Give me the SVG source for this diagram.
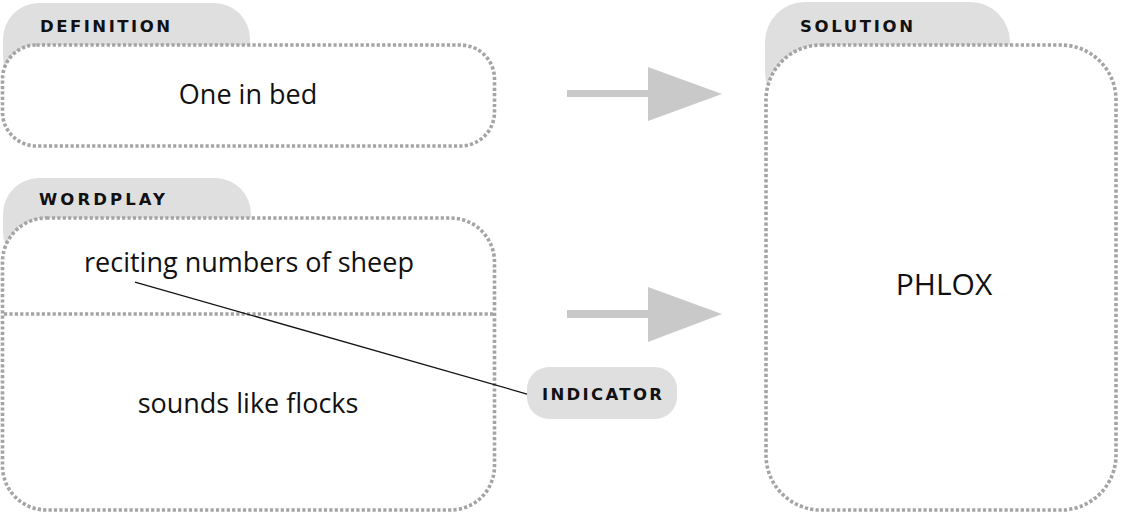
<svg xmlns="http://www.w3.org/2000/svg" width="1122" height="515" viewBox="0 0 1122 515">
<style>
.tab{fill:#dfdfe0}
.box{fill:#ffffff;stroke:#a4a4a4;stroke-width:3.6;stroke-dasharray:3.2 2.2}
.div{fill:none;stroke:#a4a4a4;stroke-width:3.6;stroke-dasharray:3.2 2.2}
.lbl{font-family:"DejaVu Sans",sans-serif;font-weight:bold;font-size:16.5px;fill:#111}
.txt{font-family:"Open Sans","Noto Sans",sans-serif;font-size:27px;fill:#111;text-anchor:middle}
.arr{fill:#c9c9c9}
</style>
<rect width="1122" height="515" fill="#ffffff"/>
<g id="definition">
  <rect class="tab" x="3" y="3" width="247" height="90" rx="36"/>
  <rect class="box" x="2.5" y="45" width="492" height="101" rx="34"/>
  <text class="lbl" x="40" y="32" textLength="130" lengthAdjust="spacing">DEFINITION</text>
  <text class="txt" x="248" y="104">One in bed</text>
</g>
<g id="wordplay">
  <rect class="tab" x="3" y="178" width="248" height="90" rx="36"/>
  <rect class="box" x="2.5" y="218" width="492" height="292" rx="44"/>
  <line class="div" x1="4" y1="314" x2="493" y2="314"/>
  <text class="lbl" x="39" y="205" textLength="126" lengthAdjust="spacing">WORDPLAY</text>
  <text class="txt" x="249" y="272">reciting numbers of sheep</text>
  <text class="txt" x="248" y="413">sounds like flocks</text>
</g>
<g id="indicator">
  <rect class="tab" x="527" y="367" width="150" height="52" rx="22"/>
  <text class="lbl" x="542" y="400" textLength="120" lengthAdjust="spacing">INDICATOR</text>
</g>
<g id="solution">
  <rect class="tab" x="765" y="2" width="245" height="110" rx="40"/>
  <rect class="box" x="766" y="45" width="350" height="465" rx="55"/>
  <text class="lbl" x="800" y="32" textLength="113" lengthAdjust="spacing">SOLUTION</text>
  <text class="txt" x="944" y="295" style="font-size:30px">PHLOX</text>
</g>
<g id="connectors">
  <path class="arr" d="M567 90 H648 V67 L722 94 L648 121 V97 H567 Z"/>
  <path class="arr" d="M567 310 H648 V287 L722 314 L648 342 V318 H567 Z"/>
  <line x1="135" y1="282" x2="527" y2="394" stroke="#111" stroke-width="1.3"/>
</g>
</svg>
